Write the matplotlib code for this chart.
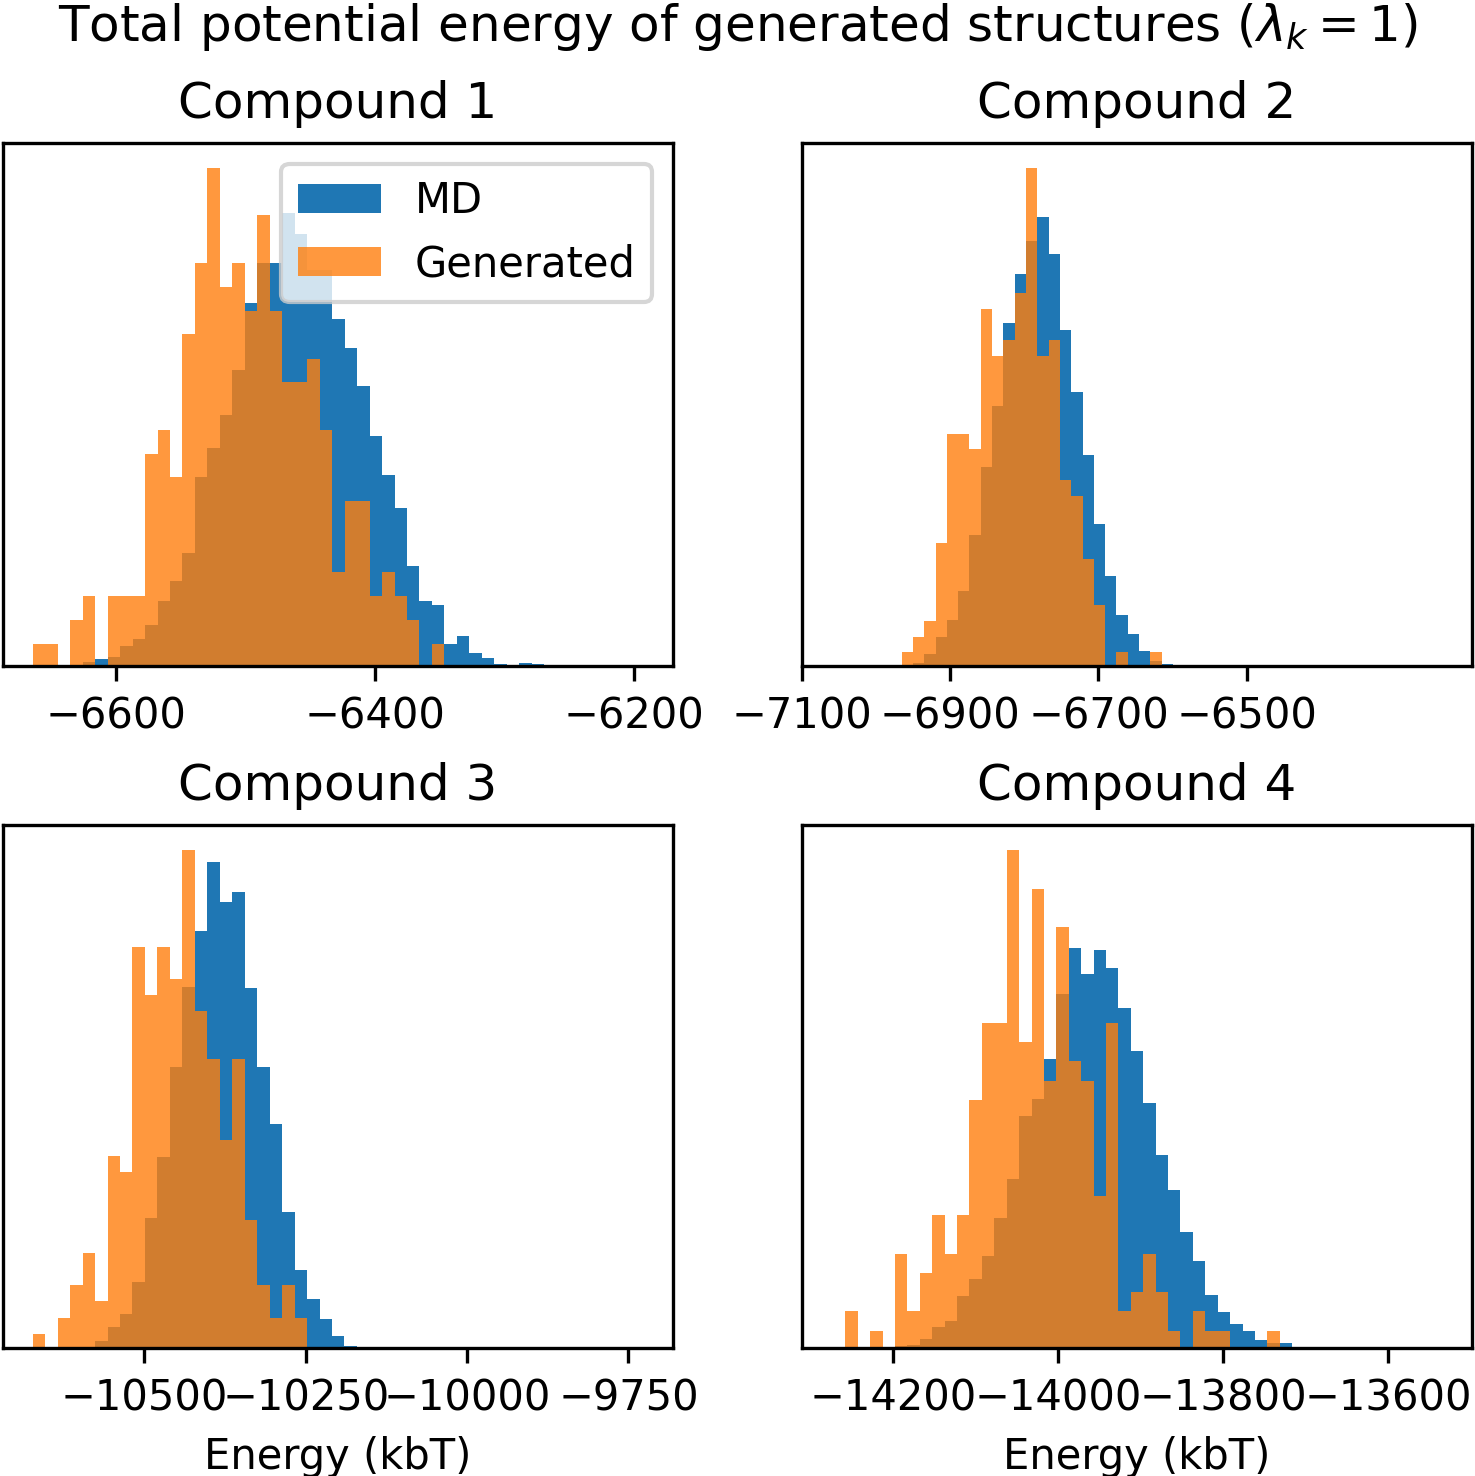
import numpy as np
import matplotlib.pyplot as plt

# histogram heights (relative units, shared bins per compound)
md_1 = [0, 0, 0, 0, 11, 20, 27, 59, 79, 119, 189, 248, 329, 549, 631, 729, 858, 1054,
        1170, 1170, 1313, 1253, 1149, 1149, 1007, 923, 813, 667, 555, 459, 289, 189,
        177, 63, 87, 37, 22, 6, 3, 9, 5]
gen_1 = [63, 63, 0, 133, 202, 0, 202, 202, 202, 616, 685, 547, 962, 1170, 1445, 1100,
         1170, 1031, 1307, 1031, 823, 823, 892, 685, 273, 479, 479, 202, 273, 202, 133,
         0, 63, 0, 0, 0, 0, 0, 0, 0, 0]
md_2 = [0, 10, 35, 85, 135, 218, 382, 579, 756, 995, 1139, 1235, 1304, 1197, 975, 795,
        612, 413, 261, 149, 94, 43, 15, 5]
gen_2 = [40, 85, 130, 358, 674, 674, 630, 1037, 902, 947, 1084, 1447, 902, 947, 539,
         494, 312, 177, 0, 40, 0, 0, 40, 0]
md_3 = [0, 0, 0, 0, 3, 20, 61, 98, 190, 378, 555, 814, 1048, 1210, 1410, 1292, 1323,
        1045, 815, 648, 394, 227, 141, 85, 34, 5]
gen_3 = [40, 0, 88, 182, 276, 135, 557, 509, 1163, 1024, 1163, 1070, 1444, 978, 837,
         603, 837, 370, 182, 88, 182, 88, 0, 0, 0, 0]
md_4 = [0, 0, 0, 3, 5, 10, 27, 61, 78, 152, 199, 267, 377, 490, 673, 722, 838, 1025,
        1161, 1085, 1154, 1102, 986, 861, 710, 560, 459, 337, 251, 153, 105, 70, 48,
        23, 14, 14]
gen_4 = [106, 0, 50, 0, 273, 106, 218, 385, 273, 385, 720, 942, 942, 1444, 887, 1332,
         775, 1220, 831, 775, 441, 942, 106, 162, 273, 162, 50, 0, 106, 50, 50, 0, 0,
         0, 50, 0]

# first bin edge and bin width per compound
bin_start = [-6664.0, -6965.6, -10673.0, -14258.4]
bin_width = [9.625, 15.26, 19.32, 15.06]

x_limits = [(-6687, -6170), (-7100, -6196), (-10719, -9681), (-14311, -13498)]
x_ticks = [[-6600, -6400, -6200], [-7100, -6900, -6700, -6500],
           [-10500, -10250, -10000, -9750], [-14200, -14000, -13800, -13600]]

md_all = [md_1, md_2, md_3, md_4]
gen_all = [gen_1, gen_2, gen_3, gen_4]

W, H = 1475, 1476
fig = plt.figure(figsize=(W / 300, H / 300), dpi=300)
boxes = [(3, 143), (802, 143), (3, 825), (802, 825)]
for k in range(4):
    left, top = boxes[k]
    ax = fig.add_axes([left / W, (H - top - 523) / H, 670 / W, 523 / H])
    n = len(md_all[k])
    edges = bin_start[k] + bin_width[k] * np.arange(n + 1)
    centers = 0.5 * (edges[:-1] + edges[1:])
    ax.hist(centers, bins=edges, weights=md_all[k], color='C0', label='MD')
    ax.hist(centers, bins=edges, weights=gen_all[k], color='C1', alpha=0.8,
            label='Generated')
    ax.set_xlim(*x_limits[k])
    ax.set_xticks(x_ticks[k])
    ax.set_yticks([])
    ax.set_title("Compound %d" % (k + 1))
    if k >= 2:
        ax.set_xlabel("Energy (kbT)")
    if k == 0:
        ax.legend(loc='upper right')

fig.suptitle(r"Total potential energy of generated structures ($\lambda_k = 1$)",
             y=0.999, va='top')

fig.savefig("out.png", dpi=300)
